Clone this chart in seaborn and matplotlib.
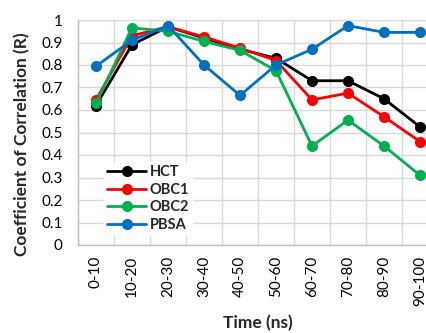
import matplotlib
matplotlib.use("Agg")
import matplotlib.pyplot as plt
import seaborn as sns
import pandas as pd
import numpy as np
from matplotlib.ticker import FixedLocator

# Time windows and correlation coefficients for each solvation model
time_windows = ["0-10", "10-20", "20-30", "30-40", "40-50",
                "50-60", "60-70", "70-80", "80-90", "90-100"]
hct = [0.62, 0.89, 0.97, 0.92, 0.87, 0.83, 0.73, 0.73, 0.65, 0.525]
obc1 = [0.645, 0.93, 0.97, 0.925, 0.875, 0.82, 0.645, 0.675, 0.57, 0.46]
obc2 = [0.63, 0.965, 0.95, 0.905, 0.865, 0.775, 0.44, 0.555, 0.44, 0.31]
pbsa = [0.795, 0.91, 0.975, 0.80, 0.665, 0.80, 0.87, 0.975, 0.945, 0.945]

methods = ["HCT", "OBC1", "OBC2", "PBSA"]
colors = ["#000000", "#FF0000", "#00B050", "#0070C0"]

df = pd.DataFrame({
    "Time": time_windows * 4,
    "R": hct + obc1 + obc2 + pbsa,
    "Method": np.repeat(methods, len(time_windows)),
})

sns.set_style("white")
plt.rcParams["font.family"] = ["Lato", "DejaVu Sans"]

fig = plt.figure(figsize=(4.27, 3.33), dpi=100)
ax = fig.add_axes([78 / 427, 1 - 245 / 333, 360 / 427, 225 / 333])

sns.lineplot(data=df, x="Time", y="R", hue="Method", hue_order=methods,
             palette=colors, marker="o", markersize=8, markeredgewidth=0,
             linewidth=2.0, sort=False, ax=ax, legend=True)

ax.set_xlim(-0.5, len(time_windows) - 0.5)
ax.set_ylim(0, 1)
ax.set_yticks(np.arange(0, 1.01, 0.1))
ax.set_yticklabels(["0", "0.1", "0.2", "0.3", "0.4", "0.5", "0.6", "0.7",
                    "0.8", "0.9", "1"])
ax.set_xticks(range(len(time_windows)))
ax.set_xticklabels(time_windows, rotation=90)
ax.xaxis.set_minor_locator(FixedLocator(np.arange(-0.5, len(time_windows), 1.0)))

grid_c = "#D9D9D9"
ax.grid(False)
ax.yaxis.grid(True, color=grid_c, linewidth=1.0)
ax.xaxis.grid(True, which="minor", color=grid_c, linewidth=1.0)
ax.set_axisbelow(True)
for side in ["top", "right"]:
    ax.spines[side].set_visible(False)
for side in ["left", "bottom"]:
    ax.spines[side].set_color("#BFBFBF")
    ax.spines[side].set_linewidth(1.0)

ax.tick_params(axis="y", which="both", length=0, pad=11, labelsize=11,
               colors="#000000")
ax.tick_params(axis="x", which="major", length=0, pad=8, labelsize=11,
               colors="#000000")
ax.tick_params(axis="x", which="minor", length=5, color=grid_c, width=1.0)

ax.set_xlabel("Time (ns)", fontsize=12.5, fontweight="bold")
ax.xaxis.set_label_coords(0.5, (245 - 323) / 225)
ax.xaxis.label.set_va("center")
ax.set_ylabel("Coefficient of Correlation (R)", fontsize=12.5,
              fontweight="bold")
ax.yaxis.set_label_coords((22 - 78) / 360, (245 - 144) / 225)
ax.yaxis.label.set_va("center")

handles, labels = ax.get_legend_handles_labels()
leg = ax.legend(handles, labels, loc="lower left",
                bbox_to_anchor=(26 / 360, 10 / 225), frameon=True,
                fancybox=False, edgecolor="white", framealpha=1.0,
                handlelength=2.7, handletextpad=0.25, labelspacing=0.25,
                borderpad=0.2, borderaxespad=0,
                prop={"size": 10.5, "weight": "bold"})

fig.savefig("out.png", dpi=100)
